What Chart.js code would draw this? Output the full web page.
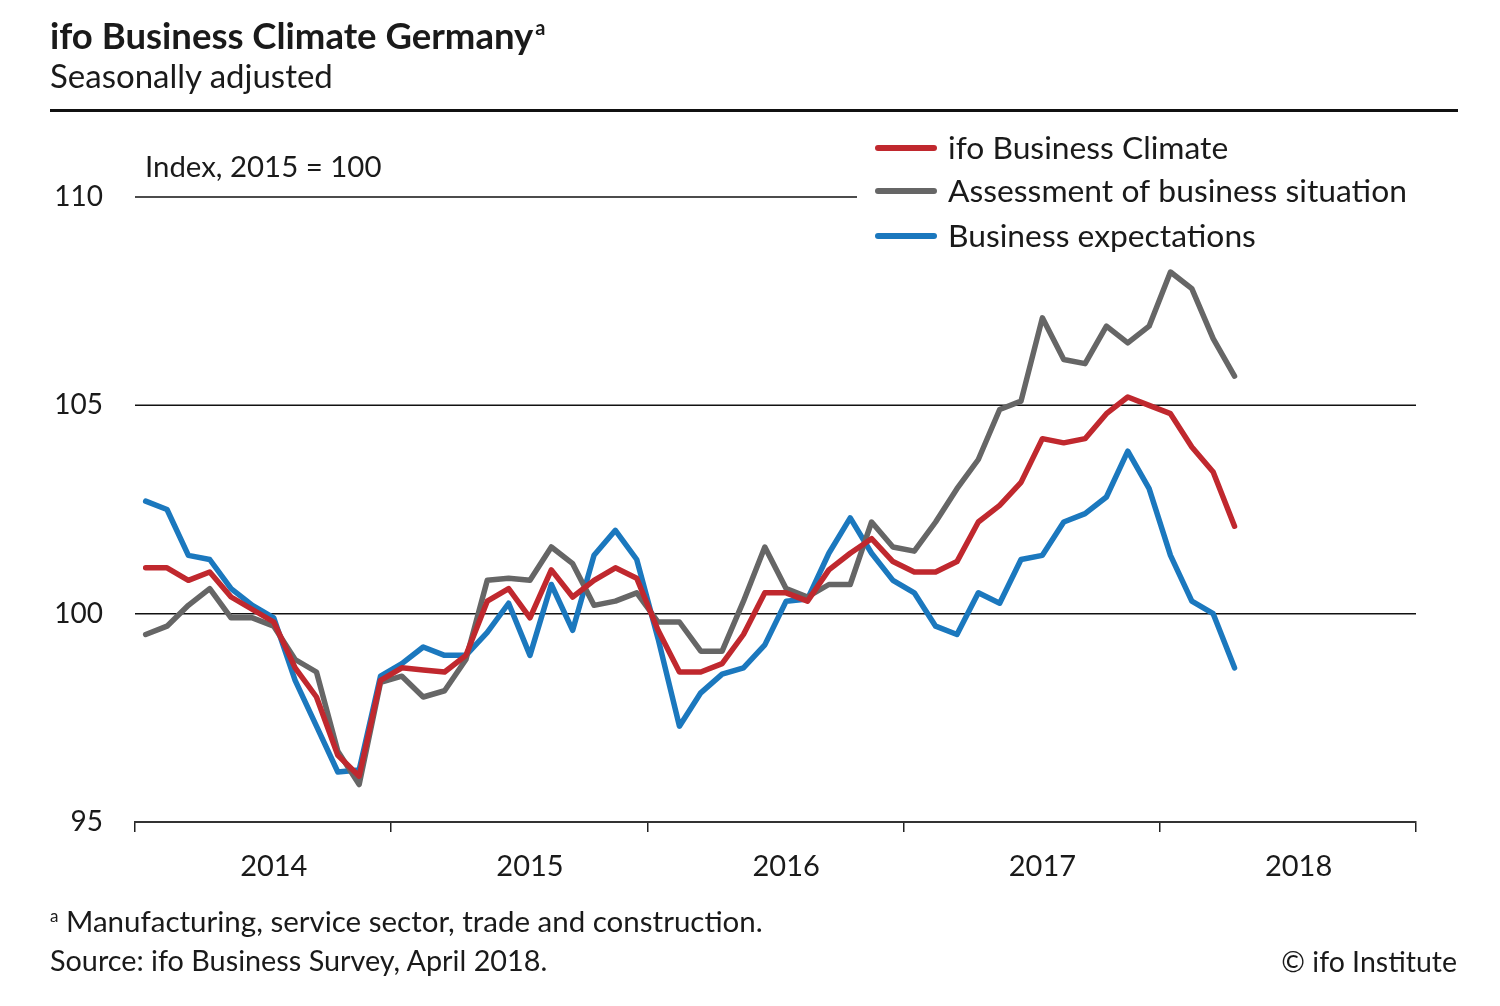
<!DOCTYPE html>
<html><head><meta charset="utf-8">
<script src="https://cdn.jsdelivr.net/npm/chart.js@4/dist/chart.umd.min.js"></script>
<style>
html,body{margin:0;padding:0;background:#fff;}
#wrap{position:relative;width:1500px;height:1006px;font-family:Lato,'Open Sans',sans-serif;color:#1a1a1a;overflow:hidden;}
canvas{position:absolute;left:0;top:0;}
.t{position:absolute;white-space:nowrap;line-height:1;}
#rule{position:absolute;left:50px;top:109px;width:1408px;height:3px;background:#111;}
</style></head><body>
<div id="wrap">
<canvas id="c" width="1500" height="1006"></canvas>
<div class="t" style="left:50px;top:17px;font-size:36.5px;font-weight:700;">ifo Business Climate Germany<span style="font-size:20px;position:relative;top:-14px;margin-left:2px;">a</span></div>
<div class="t" style="left:50px;top:59px;font-size:33px;">Seasonally adjusted</div>
<div id="rule"></div>
<div class="t" style="left:50px;top:906px;font-size:29.5px;"><span style="font-size:17px;position:relative;top:-10px;">a</span> Manufacturing, service sector, trade and construction.</div>
<div class="t" style="left:50px;top:946px;font-size:28.8px;">Source: ifo Business Survey, April 2018.</div>
<div class="t" style="right:43px;top:947px;font-size:28.5px;">© ifo Institute</div>
</div>
<script>
const years = ['2014','2015','2016','2017','2018'];
const yTicks = [95, 100, 105, 110];
const seriesNames = ['ifo Business Climate','Assessment of business situation','Business expectations'];
const climate = [101.1,101.1,100.8,101.0,100.4,100.1,99.8,98.7,98.0,96.6,96.1,98.4,
  98.7,98.65,98.6,99.0,100.3,100.6,99.9,101.05,100.4,100.8,101.1,100.85,
  99.6,98.6,98.6,98.8,99.5,100.5,100.5,100.3,101.05,101.45,101.8,101.25,
  101.0,101.0,101.25,102.2,102.6,103.15,104.2,104.1,104.2,104.8,105.2,105.0,
  104.8,104.0,103.4,102.1];
const situation = [99.5,99.7,100.2,100.6,99.9,99.9,99.7,98.9,98.6,96.7,95.9,98.35,
  98.5,98.0,98.15,98.9,100.8,100.85,100.8,101.6,101.2,100.2,100.3,100.5,
  99.8,99.8,99.1,99.1,100.3,101.6,100.6,100.4,100.7,100.7,102.2,101.6,
  101.5,102.2,103.0,103.7,104.9,105.1,107.1,106.1,106.0,106.9,106.5,106.9,
  108.2,107.8,106.6,105.7];
const expectations = [102.7,102.5,101.4,101.3,100.6,100.2,99.9,98.4,97.3,96.2,96.25,98.5,
  98.8,99.2,99.0,99.0,99.55,100.25,99.0,100.7,99.6,101.4,102.0,101.3,
  99.4,97.3,98.1,98.55,98.7,99.25,100.3,100.35,101.45,102.3,101.45,100.8,
  100.5,99.7,99.5,100.5,100.25,101.3,101.4,102.2,102.4,102.8,103.9,103.0,
  101.4,100.3,100.0,98.7];
const indexNote = 'Index, 2015 = 100';

const monthLabels = [];
years.forEach(y => { for (let m = 1; m <= 12; m++) monthLabels.push(y + '-' + String(m).padStart(2,'0')); });

const colors = ['#c0282e', '#666666', '#1b78be'];
const FONT = 'Lato';

const decor = {
  id: 'decor',
  beforeDatasetsDraw(chart) {
    const {ctx, chartArea, scales: {y}} = chart;
    ctx.save();
    ctx.strokeStyle = '#111';
    ctx.lineWidth = 1.5;
    [100, 105].forEach(v => {
      const py = y.getPixelForValue(v);
      ctx.beginPath(); ctx.moveTo(chartArea.left, py); ctx.lineTo(chartArea.right, py); ctx.stroke();
    });
    const p110 = y.getPixelForValue(110);
    ctx.beginPath(); ctx.moveTo(chartArea.left, p110); ctx.lineTo(857, p110); ctx.stroke();
    ctx.fillStyle = '#1a1a1a';
    ctx.font = '29.4px ' + FONT;
    ctx.textBaseline = 'middle';
    ctx.textAlign = 'left';
    ctx.fillText(indexNote, chartArea.left + 10, p110 - 29);
    ctx.restore();
  },
  afterDraw(chart) {
    const {ctx} = chart;
    const rows = [148, 191, 236];
    ctx.save();
    ctx.font = '31.8px ' + FONT;
    ctx.textBaseline = 'middle';
    ctx.textAlign = 'left';
    chart.data.datasets.forEach((ds, i) => {
      ctx.strokeStyle = ds.borderColor;
      ctx.lineWidth = 6;
      ctx.lineCap = 'round';
      ctx.beginPath(); ctx.moveTo(878, rows[i]); ctx.lineTo(934, rows[i]); ctx.stroke();
      ctx.fillStyle = '#1a1a1a';
      ctx.fillText(ds.label, 948, rows[i] + 1);
    });
    ctx.restore();
  }
};

new Chart(document.getElementById('c'), {
  type: 'line',
  data: {
    labels: monthLabels,
    datasets: [
      {label: seriesNames[0], data: climate, borderColor: colors[0]},
      {label: seriesNames[1], data: situation, borderColor: colors[1]},
      {label: seriesNames[2], data: expectations, borderColor: colors[2]}
    ].map(d => Object.assign(d, {borderWidth: 5.5, pointRadius: 0, tension: 0, fill: false, borderJoinStyle: 'round', borderCapStyle: 'round'}))
  },
  options: {
    responsive: false,
    animation: false,
    devicePixelRatio: 1,
    layout: {padding: {left: 0, right: 84, top: 197, bottom: 0}},
    plugins: {legend: {display: false}, tooltip: {enabled: false}},
    scales: {
      x: {
        type: 'category',
        offset: true,
        afterFit(s) { s.height = 184; },
        grid: {
          offset: true,
          drawOnChartArea: false,
          drawTicks: true,
          tickLength: 10,
          lineWidth: 1.5,
          color: ctx => (ctx.index === undefined || ctx.index % 12 === 0) ? '#222' : 'rgba(0,0,0,0)'
        },
        border: {display: true, color: '#333', width: 2},
        ticks: {
          autoSkip: false, maxRotation: 0, minRotation: 0, padding: 17,
          color: '#1a1a1a', font: {family: FONT, size: 29},
          callback: (v, i) => (i % 12 === 6) ? years[Math.floor(i / 12)] : ''
        }
      },
      y: {
        min: yTicks[0], max: yTicks[yTicks.length - 1],
        afterFit(s) { s.width = 135; },
        afterBuildTicks(s) { s.ticks = yTicks.map(v => ({value: v})); },
        grid: {display: false, drawTicks: false},
        border: {display: false},
        ticks: {padding: 32, color: '#1a1a1a', font: {family: FONT, size: 28}}
      }
    }
  },
  plugins: [decor]
});
</script>
</body></html>
